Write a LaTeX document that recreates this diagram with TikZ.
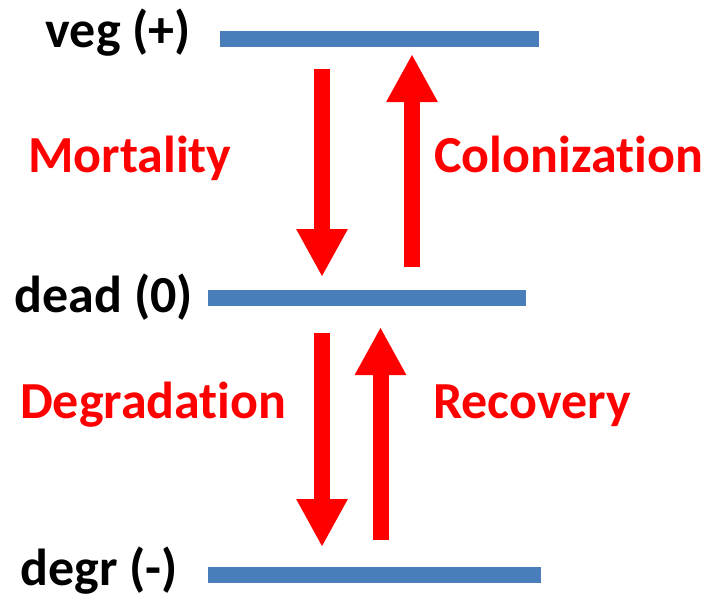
\documentclass[tikz,border=0pt]{standalone}
\usepackage{fontspec}
\setmainfont[Ligatures=NoCommon]{Carlito}
\usetikzlibrary{arrows.meta}
\definecolor{bl}{HTML}{4A7EBB}
\definecolor{rd}{RGB}{255,0,0}

\begin{document}
\begin{tikzpicture}[x=1pt, y=-1pt,
	bar/.style={fill=bl, draw=none, minimum height=16pt, inner sep=0pt},
	lvl/.style={anchor=base east, inner sep=0pt, font=\fontsize{52}{60}\selectfont\bfseries},
	proc/.style={anchor=base west, inner sep=0pt, text=rd, font=\fontsize{52}{60}\selectfont\bfseries},
	flow/.style={rd, line width=16pt, -{Triangle[length=48pt, width=48pt]}}]
			\useasboundingbox (0,0) rectangle (711,597);

			% Levels
			\node[bar, minimum width=319pt] (veg) at (379.5,38.5) {};
			\node[bar, minimum width=318pt] (dead) at (367,298) {};
			\node[bar, minimum width=333pt] (degr) at (374.5,574.5) {};
			\node[lvl] (vegl) at (191,47) {veg (+)};
			\node[lvl] (deadl) at (193,312) {dead (0)};
			\node[lvl] (degrl) at (178,585) {degr (-)};

			% Arrow ends
			\coordinate (mortA) at (322,69);
			\coordinate (mortB) at (322,277);
			\coordinate (colA) at (412,267);
			\coordinate (colB) at (412,54);
			\coordinate (degA) at (322,333);
			\coordinate (degB) at (322,547);
			\coordinate (recA) at (380.5,540);
			\coordinate (recB) at (380.5,327);

			% Transitions
			\draw[flow] (mortA) -- (mortB);
			\draw[flow] (colA) -- (colB);
			\draw[flow] (degA) -- (degB);
			\draw[flow] (recA) -- (recB);

			% Labels
			\node[proc] (mort) at (28,172) {Mortality};
			\node[proc] (colon) at (434,172) {Colonization};
			\node[proc] (degrad) at (20,418) {Degradation};
			\node[proc] (recov) at (433,418) {Recovery};
		\end{tikzpicture}
\end{document}
